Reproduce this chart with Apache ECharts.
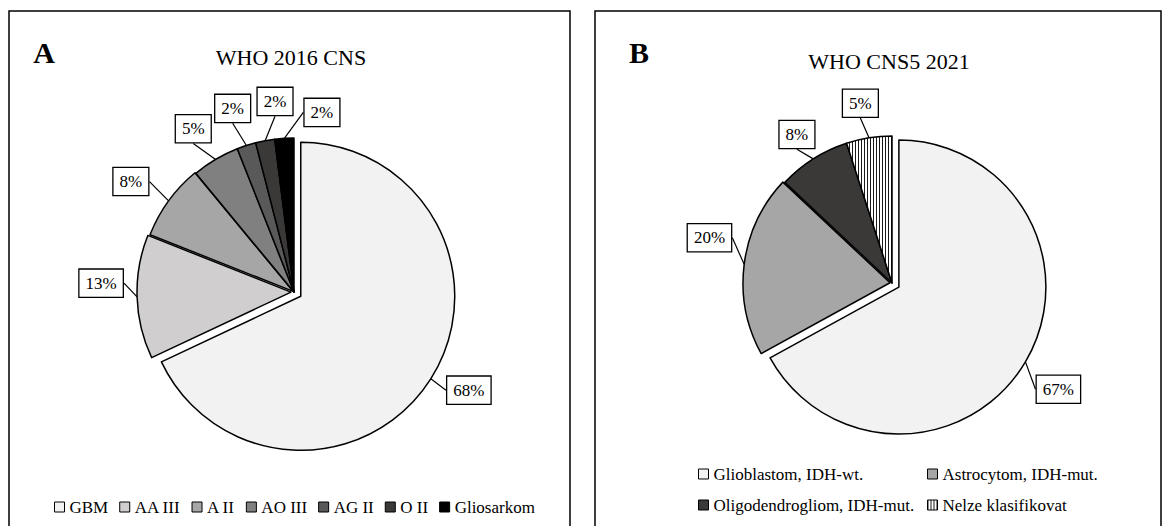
<!DOCTYPE html>
<html>
<head>
<meta charset="utf-8">
<script src="https://cdn.jsdelivr.net/npm/echarts@6/dist/echarts.min.js"></script>
<style>
html,body{margin:0;padding:0;background:#fff;}
#c{width:1165px;height:526px;}
</style>
</head>
<body>
<div id="c"></div>
<script>
// ---------- data ----------
const panelLetterA = 'A';
const panelLetterB = 'B';
const titleA = 'WHO 2016 CNS';
const titleB = 'WHO CNS5 2021';
const categoriesA = ['GBM', 'AA III', 'A II', 'AO III', 'AG II', 'O II', 'Gliosarkom'];
const valuesA = [68, 13, 8, 5, 2, 2, 2];
const categoriesB = ['Glioblastom, IDH-wt.', 'Astrocytom, IDH-mut.', 'Oligodendrogliom, IDH-mut.', 'Nelze klasifikovat'];
const valuesB = [67, 20, 8, 5];

// ---------- styles ----------
const FONT = "'Liberation Serif','Times New Roman',serif";

function hatchPattern() {
  const cv = document.createElement('canvas');
  cv.width = 3; cv.height = 4;
  const ctx = cv.getContext('2d');
  ctx.fillStyle = '#ffffff';
  ctx.fillRect(0, 0, 3, 4);
  ctx.fillStyle = '#1a1a1a';
  ctx.fillRect(0, 0, 1, 4);
  return { image: cv, repeat: 'repeat' };
}

const colorsA = ['#f2f2f2', '#d0cece', '#a6a6a6', '#808080', '#595959', '#3b3838', '#000000'];
const colorsB = ['#f2f2f2', '#a6a6a6', '#3b3838', hatchPattern()];

const styleA = {
  center: [294, 292], r: 154, explode: [8, 3, 1, 0, 0, 0, 0], labelDist: 38,
  labelShift: [[6, -9], [2, -15], [-7, 3], [-3, 2], [-2, -1], [17, -2], [40, 12]]
};
const styleB = {
  center: [892, 283], r: 147, explode: [8, 2, 0, 0], labelDist: 36,
  labelShift: [[2, 9], [1, -22], [3, 6], [-3, 1]]
};

function makeLayout(P) {
  return function (p) {
    const pts = p.labelLinePoints;
    if (!pts || pts.length < 2) return {};
    const ux = pts[1][0] - pts[0][0], uy = pts[1][1] - pts[0][1];
    const L = Math.hypot(ux, uy) || 1;
    const s = P.labelShift[p.dataIndex] || [0, 0];
    return {
      x: pts[0][0] + ux / L * P.labelDist + s[0],
      y: pts[0][1] + uy / L * P.labelDist + s[1],
      align: 'center',
      verticalAlign: 'middle'
    };
  };
}

function buildSeries(cats, vals, colors, P) {
  const total = vals.reduce((a, b) => a + b, 0);
  let cum = 0;
  const mids = vals.map(v => { const m = (cum + v / 2) / total * 2 * Math.PI; cum += v; return m; });
  return cats.map((name, k) => {
    const off = P.explode[k];
    const cx = P.center[0] + off * Math.sin(mids[k]);
    const cy = P.center[1] - off * Math.cos(mids[k]);
    return {
      type: 'pie',
      silent: true,
      animation: false,
      clockwise: true,
      startAngle: 90,
      center: [cx, cy],
      radius: P.r,
      avoidLabelOverlap: false,
      emphasis: { disabled: true },
      label: {
        show: true,
        position: 'outside',
        formatter: q => Math.round(q.percent) + '%',
        fontFamily: FONT,
        fontSize: 17,
        color: '#000',
        backgroundColor: '#fff',
        borderColor: '#000',
        borderWidth: 1.3,
        padding: [5, 6, 4, 6],
        lineHeight: 18
      },
      labelLine: { show: true, length: 10, length2: 0, lineStyle: { color: '#000', width: 1.2 } },
      labelLayout: makeLayout(P),
      data: cats.map((n, i) => i === k
        ? { name: n, value: vals[i], itemStyle: { color: colors[i], borderColor: '#000', borderWidth: 1.5 } }
        : { name: n, value: vals[i], itemStyle: { color: 'rgba(0,0,0,0)', borderColor: 'rgba(0,0,0,0)', borderWidth: 0 },
            label: { show: false }, labelLine: { show: false } })
    };
  });
}

const legendText = { fontFamily: FONT, fontSize: 17, color: '#000', lineHeight: 20 };
function legendItems(cats, colors, idx) {
  return idx.map(i => ({ name: cats[i], itemStyle: { color: colors[i], borderColor: '#000', borderWidth: 1 } }));
}

const chart = echarts.init(document.getElementById('c'), null, { renderer: 'svg' });
chart.setOption({
  backgroundColor: '#fff',
  animation: false,
  graphic: [
    { type: 'rect', shape: { x: 9, y: 11, width: 561, height: 530 }, style: { fill: 'none', stroke: '#000', lineWidth: 1.5 }, silent: true },
    { type: 'rect', shape: { x: 595, y: 11, width: 566, height: 530 }, style: { fill: 'none', stroke: '#000', lineWidth: 1.5 }, silent: true },
    { type: 'text', x: 44, y: 52, style: { text: panelLetterA, font: "bold 30px 'Liberation Serif','Times New Roman',serif", fill: '#000', textAlign: 'center', textVerticalAlign: 'middle' }, silent: true },
    { type: 'text', x: 291, y: 57, style: { text: titleA, font: "22px 'Liberation Serif','Times New Roman',serif", fill: '#000', textAlign: 'center', textVerticalAlign: 'middle' }, silent: true },
    { type: 'text', x: 639, y: 52, style: { text: panelLetterB, font: "bold 30px 'Liberation Serif','Times New Roman',serif", fill: '#000', textAlign: 'center', textVerticalAlign: 'middle' }, silent: true },
    { type: 'text', x: 889, y: 61, style: { text: titleB, font: "22px 'Liberation Serif','Times New Roman',serif", fill: '#000', textAlign: 'center', textVerticalAlign: 'middle' }, silent: true }
  ],
  legend: [
    { orient: 'horizontal', left: 54, top: 497, padding: 0, itemWidth: 10, itemHeight: 10, itemGap: 11, icon: 'rect',
      selectedMode: false, textStyle: legendText, data: legendItems(categoriesA, colorsA, [0, 1, 2, 3, 4, 5, 6]) },
    { orient: 'vertical', left: 698, top: 464, padding: 0, itemWidth: 10, itemHeight: 10, itemGap: 11, icon: 'rect',
      selectedMode: false, textStyle: legendText, data: legendItems(categoriesB, colorsB, [0, 2]) },
    { orient: 'vertical', left: 927, top: 464, padding: 0, itemWidth: 10, itemHeight: 10, itemGap: 11, icon: 'rect',
      selectedMode: false, textStyle: legendText, data: legendItems(categoriesB, colorsB, [1, 3]) }
  ],
  series: [].concat(
    buildSeries(categoriesA, valuesA, colorsA, styleA),
    buildSeries(categoriesB, valuesB, colorsB, styleB)
  )
});
</script>
</body>
</html>
